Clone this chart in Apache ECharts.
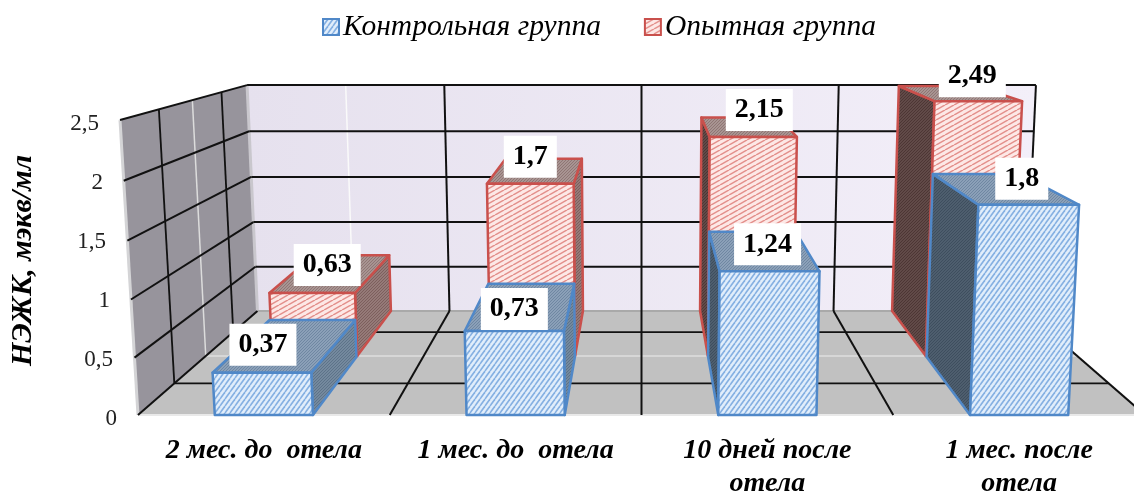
<!DOCTYPE html>
<html><head><meta charset="utf-8">
<style>html,body{margin:0;padding:0;background:#fff}#c{width:1134px;height:492px}</style>
<script src="https://cdn.jsdelivr.net/npm/echarts@6/dist/echarts.min.js"></script>
</head><body><div id="c"></div>
<script>
const categories = ['2 мес. до  отела', '1 мес. до  отела', '10 дней после\nотела', '1 мес. после\nотела'];
const controlValues = [0.37, 0.73, 1.24, 1.8];
const experimentValues = [0.63, 1.7, 2.15, 2.49];
const valueTicks = [0, 0.5, 1, 1.5, 2, 2.5];
const seriesNames = ['Контрольная группа', 'Опытная группа'];

const SERIF = '"Liberation Serif", "Times New Roman", serif';
const fmt = v => String(v).replace('.', ',');

function tile(w, h, bg, fg, lw) {
  const c = document.createElement('canvas'); c.width = w; c.height = h;
  const g = c.getContext('2d'); g.fillStyle = bg; g.fillRect(0, 0, w, h);
  g.strokeStyle = fg; g.lineWidth = lw;
  for (let i = -1; i <= 1; i++) { g.beginPath(); g.moveTo(i * w, h); g.lineTo(i * w + w, 0); g.stroke(); }
  return { image: c, repeat: 'repeat' };
}
const BLUE = {
  edge: '#5088c8', front: tile(5, 7, '#e2eefb', '#85b0e2', 1.6),
  top: tile(3, 3, '#8ba0b8', '#6f87a2', 1), sideR: tile(3, 3, '#74899e', '#5d7389', 1), sideL: tile(3, 3, '#4e5e6e', '#3e4e5e', 1)
};
const RED = {
  edge: '#c9504c', front: tile(9, 5, '#fde8e6', '#e38f8b', 1.5),
  top: tile(3, 3, '#a89492', '#8f7674', 1), sideR: tile(3, 3, '#957a78', '#7d5f5d', 1), sideL: tile(3, 3, '#614a48', '#4d3634', 1)
};

/* perspective of the 3-D box, applied on top of the cartesian grid's own coordinates */
const K = 0.311, M = -0.0345, FLOOR = 415, LIFT = 299.1, DROP = -7.28, HALF = 0.195;
function projector(params, api) {
  const cs = params.coordSys, cx = cs.x + cs.width / 2, bottom = cs.y + cs.height, band = api.size([1, 0])[0];
  return (cat, off, value, z) => {
    const p = api.coord([cat, value]);
    const gx = p[0] + off * band, Y = (bottom - p[1]) / cs.height, w = 1 + K * z + M * Y;
    return [cx + (gx - cx) / w, (FLOOR - LIFT * Y + DROP * z) / w];
  };
}
function poly(pts, fill, stroke, lw) {
  return { type: 'polygon', shape: { points: pts }, style: { fill, stroke: stroke || null, lineWidth: lw || 0, lineJoin: 'round' } };
}
function seg(a, b, color, lw) {
  return { type: 'line', shape: { x1: a[0], y1: a[1], x2: b[0], y2: b[1] }, style: { stroke: color, lineWidth: lw || 2, fill: null } };
}

function renderWalls(params, api) {
  const P = projector(params, api), n = categories.length, vMax = valueTicks[valueTicks.length - 1];
  const L = -0.5, R = 0.5, last = n - 1, kids = [];
  kids.push(poly([P(0, L, 0, 0), P(last, R, 0, 0), P(last, R, 0, 1), P(0, L, 0, 1)], '#c1c1c1'));
  kids.push(poly([P(0, L, 0, 0), P(0, L, 0, 1), P(0, L, vMax, 1), P(0, L, vMax, 0)], '#97949c'));
  kids.push(poly([P(0, L, 0, 1), P(last, R, 0, 1), P(last, R, vMax, 1), P(0, L, vMax, 1)], {
    type: 'linear', x: 0, y: 0, x2: 1, y2: 0,
    colorStops: [{ offset: 0, color: '#e6e1ee' }, { offset: 1, color: '#f3eff9' }]
  }));
  // light edges
  kids.push(seg(P(0, L, 0, 0), P(0, L, vMax, 0), '#d4d4d6', 3));
  kids.push(seg(P(0, L, 0, 1), P(0, L, vMax, 1), '#c9c7cd', 3));
  kids.push(seg(P(0, L, 0, 0), P(last, R, 0, 0), '#e9e9e9', 2));
  kids.push(seg(P(0, L, 0, 1), P(last, R, 0, 1), '#a9a9a9', 2));
  // faint white lines
  kids.push(seg(P(0, 0, 0, 1), P(0, 0, vMax, 1), '#fafafa', 1.5));
  kids.push(seg(P(0, L, 0, 0.5), P(0, L, vMax, 0.5), '#dcdcdc', 1.5));
  kids.push(seg(P(0, L, 0, 0.5), P(last, R, 0, 0.5), '#dedede', 1.5));
  // floor depth lines
  [0.25, 0.75].forEach(z => {
    kids.push(seg(P(0, L, 0, z), P(last, R, 0, z), '#111', 1.8));
    kids.push(seg(P(0, L, 0, z), P(0, L, vMax, z), '#111', 1.8));
  });
  // value lines on both walls
  valueTicks.slice(1).forEach(v => {
    kids.push(seg(P(0, L, v, 0), P(0, L, v, 1), '#111', 2));
    kids.push(seg(P(0, L, v, 1), P(last, R, v, 1), '#111', 2));
  });
  // category lines on floor and back wall
  for (let i = 0; i < n; i++) {
    kids.push(seg(P(i, R, 0, 0), P(i, R, 0, 1), '#111', 2));
    kids.push(seg(P(i, R, 0, 1), P(i, R, vMax, 1), '#111', 2));
  }
  kids.push(seg(P(0, L, 0, 0), P(0, L, 0, 1), '#111', 2));
  return { type: 'group', children: kids };
}

const labelNudgeControl = [[1, -28], [0, -22], [-2, -27], [-7, -26]];
const labelNudgeExperiment = [[15, -28], [0, -27], [6, -27], [-6, -25]];

function barRenderer(look, z0, z1, nudge) {
  return function (params, api) {
    const P = projector(params, api), i = api.value(0), v = api.value(1), kids = [];
    const fl = P(i, -HALF, v, z0), fr = P(i, HALF, v, z0), bl = P(i, -HALF, v, z1), br = P(i, HALF, v, z1);
    const gl = P(i, -HALF, 0, z0), gr = P(i, HALF, 0, z0), hl = P(i, -HALF, 0, z1), hr = P(i, HALF, 0, z1);
    const style = (p, f) => poly(p, f, look.edge, 2.5);
    if (i < categories.length / 2) kids.push(style([gr, hr, br, fr], look.sideR));
    else kids.push(style([gl, hl, bl, fl], look.sideL));
    kids.push(style([fl, fr, br, bl], look.top));
    kids.push(style([gl, gr, fr, fl], look.front));
    const c = P(i, 0, v, z0), d = nudge[i];
    kids.push({
      type: 'text', z2: 50,
      style: {
        text: fmt(v), x: c[0] + d[0], y: c[1] + d[1], align: 'center', verticalAlign: 'middle',
        font: 'bold 28px ' + SERIF, fill: '#000', backgroundColor: '#fff', padding: [5, 9], lineHeight: 32
      }
    });
    return { type: 'group', children: kids };
  };
}

const chart = echarts.init(document.getElementById('c'), null, { renderer: 'canvas', width: 1134, height: 492 });
chart.setOption({
  animation: false,
  backgroundColor: '#fff',
  grid: { left: 138, top: 121, height: 295, width: 1007, outerBoundsMode: 'none' },
  legend: {
    top: 7, left: 317, itemWidth: 16, itemHeight: 16, itemGap: 43, selectedMode: false,
    textStyle: { fontFamily: SERIF, fontStyle: 'italic', fontSize: 29.5, color: '#000', padding: [0, 0, 0, -1] },
    data: [
      { name: seriesNames[0], icon: 'rect', itemStyle: { color: BLUE.front, borderColor: BLUE.edge, borderWidth: 2 } },
      { name: seriesNames[1], icon: 'rect', itemStyle: { color: RED.front, borderColor: RED.edge, borderWidth: 2 } }
    ]
  },
  xAxis: {
    type: 'category', data: categories,
    axisLine: { show: false }, axisTick: { show: false }, splitLine: { show: false },
    axisLabel: { margin: 18, interval: 0, hideOverlap: false, fontFamily: SERIF, fontStyle: 'italic', fontWeight: 'bold', fontSize: 28, lineHeight: 33, color: '#000' }
  },
  yAxis: {
    type: 'value', min: 0, max: 2.5, interval: 0.5,
    name: 'НЭЖК, мэкв/мл', nameLocation: 'middle', nameRotate: 90, nameGap: 100,
    nameTextStyle: { fontFamily: SERIF, fontStyle: 'italic', fontWeight: 'bold', fontSize: 30, color: '#000', padding: [0, 0, 0, 16] },
    axisLine: { show: false }, axisTick: { show: false }, splitLine: { show: false },
    axisLabel: {
      margin: 21, color: '#222', fontFamily: SERIF, fontSize: 23,
      formatter: v => '{t' + Math.round(v * 2) + '|' + fmt(v) + '}',
      rich: Object.fromEntries(valueTicks.map(v => ['t' + Math.round(v * 2), {
        fontFamily: SERIF, fontSize: 23, color: '#222', padding: [6, Math.round(v * 7), 0, 0]
      }]))
    }
  },
  series: [
    { name: 'Стенки', type: 'custom', coordinateSystem: 'cartesian2d', z: 1, silent: true, clip: false, renderItem: renderWalls, data: [[0, 0]], encode: { x: 0, y: 1 } },
    {
      name: seriesNames[0], type: 'custom', coordinateSystem: 'cartesian2d', z: 3, silent: true, clip: false,
      itemStyle: { color: '#85b0e2', borderColor: BLUE.edge },
      renderItem: barRenderer(BLUE, 0, 0.49, labelNudgeControl),
      data: controlValues.map((v, i) => [i, v]), encode: { x: 0, y: 1 }
    },
    {
      name: seriesNames[1], type: 'custom', coordinateSystem: 'cartesian2d', z: 2, silent: true, clip: false,
      itemStyle: { color: '#e38f8b', borderColor: RED.edge },
      renderItem: barRenderer(RED, 0.5, 1, labelNudgeExperiment),
      data: experimentValues.map((v, i) => [i, v]), encode: { x: 0, y: 1 }
    }
  ]
});
</script></body></html>
